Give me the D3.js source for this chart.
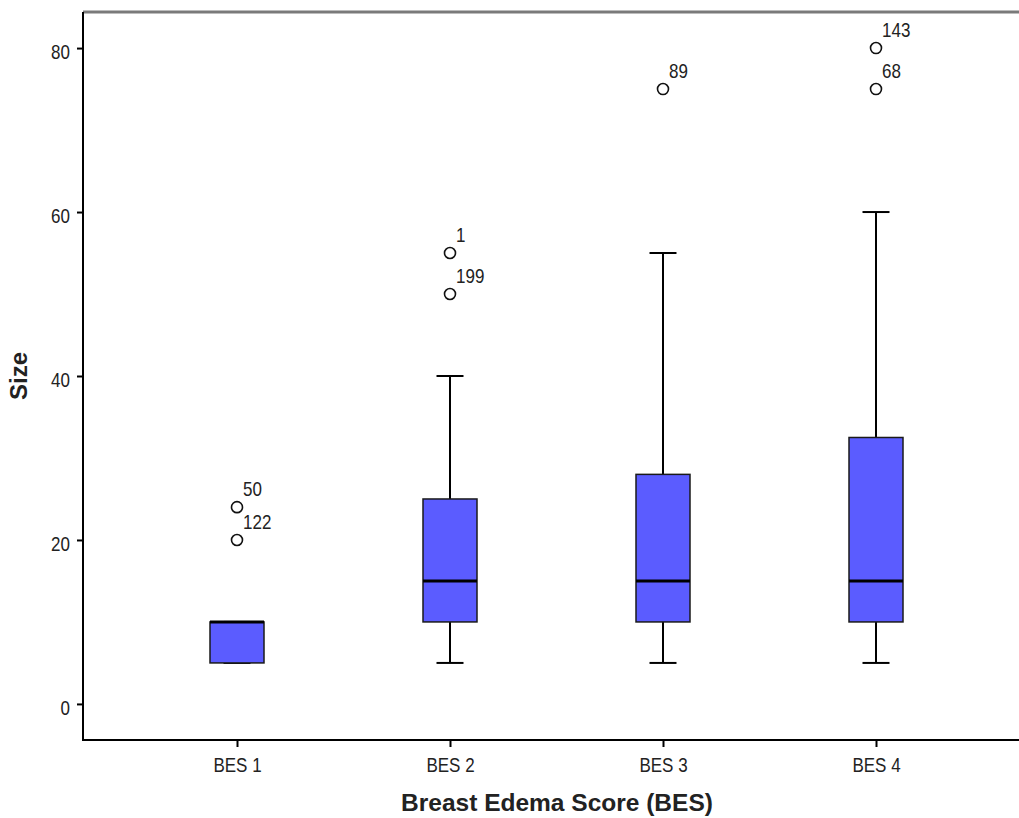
<!DOCTYPE html>
<html><head><meta charset="utf-8">
<script src="https://cdn.jsdelivr.net/npm/d3@7"></script>
<style>body{margin:0;background:#fff}</style>
</head><body>
<svg id="c" width="1019" height="818"></svg>
<script>
const categories = ["BES 1","BES 2","BES 3","BES 4"];
const mins    = [5, 5, 5, 5];
const q1s     = [5, 10, 10, 10];
const medians = [10, 15, 15, 15];
const q3s     = [10, 25, 28, 32.5];
const maxs    = [10, 40, 55, 60];
const outlierValues = [[24, 20], [55, 50], [75], [80, 75]];
const outlierLabels = [["50", "122"], ["1", "199"], ["89"], ["143", "68"]];
const yTicks = [0, 20, 40, 60, 80];

const FONT = "Liberation Sans, Arial, sans-serif";
const SY = 1.2; // vertical stretch of small labels
const svg = d3.select("#c");
const L = 83, T = 12, B = 740, R = 1019;
const y = d3.scaleLinear().domain([-4.4, 84.4]).range([B, T]);
const x = d3.scalePoint().domain(categories).range([237, 876]);

svg.append("rect").attr("x", 0).attr("y", 0).attr("width", 1019).attr("height", 818).attr("fill", "#fff");

// top frame
svg.append("line").attr("x1", L).attr("x2", R).attr("y1", T).attr("y2", T).attr("stroke", "#7a7a7a").attr("stroke-width", 3);

// axes
const yAxis = d3.axisLeft(y).tickValues(yTicks).tickSize(6).tickPadding(7);
const gy = svg.append("g").attr("transform", `translate(${L},0)`).call(yAxis);
gy.select(".domain").remove();
gy.selectAll(".tick line").attr("stroke", "#000").attr("stroke-width", 2);
gy.selectAll(".tick text").attr("font-family", FONT).attr("font-size", 17).attr("fill", "#222")
  .attr("dy", 0).attr("y", 10.5 / SY).attr("transform", `scale(1,${SY})`);
svg.append("line").attr("x1", L).attr("x2", L).attr("y1", T).attr("y2", B + 1).attr("stroke", "#000").attr("stroke-width", 2);

const xAxis = d3.axisBottom(x).tickSize(7).tickPadding(5);
const gx = svg.append("g").attr("transform", `translate(0,${B})`).call(xAxis);
gx.select(".domain").remove();
gx.selectAll(".tick line").attr("stroke", "#000").attr("stroke-width", 2);
gx.selectAll(".tick text").attr("font-family", FONT).attr("font-size", 17).attr("fill", "#222")
  .attr("dy", 0).attr("y", 32 / SY).attr("transform", `scale(1,${SY})`);
svg.append("line").attr("x1", L - 1).attr("x2", R).attr("y1", B).attr("y2", B).attr("stroke", "#000").attr("stroke-width", 2);

// titles
svg.append("text").attr("x", 557).attr("y", 811).attr("text-anchor", "middle")
  .attr("font-family", FONT).attr("font-weight", "bold").attr("font-size", 24.5).attr("fill", "#222")
  .text("Breast Edema Score (BES)");
svg.append("text").attr("transform", "translate(27,376) rotate(-90)").attr("text-anchor", "middle")
  .attr("font-family", FONT).attr("font-weight", "bold").attr("font-size", 24).attr("fill", "#222")
  .text("Size");

const bw = 54, cw = 27;
const data = categories.map((c, i) => ({c, min: mins[i], q1: q1s[i], med: medians[i], q3: q3s[i], max: maxs[i], out: outlierValues[i], lab: outlierLabels[i]}));
const g = svg.selectAll("g.box").data(data).enter().append("g").attr("class", "box");

// whiskers
g.append("line").attr("x1", d => x(d.c)).attr("x2", d => x(d.c)).attr("y1", d => y(d.q3)).attr("y2", d => y(d.max)).attr("stroke", "#000").attr("stroke-width", 2);
g.append("line").attr("x1", d => x(d.c)).attr("x2", d => x(d.c)).attr("y1", d => y(d.q1)).attr("y2", d => y(d.min)).attr("stroke", "#000").attr("stroke-width", 2);
g.append("line").attr("x1", d => x(d.c) - cw / 2).attr("x2", d => x(d.c) + cw / 2).attr("y1", d => y(d.max)).attr("y2", d => y(d.max)).attr("stroke", "#000").attr("stroke-width", 2);
g.append("line").attr("x1", d => x(d.c) - cw / 2).attr("x2", d => x(d.c) + cw / 2).attr("y1", d => y(d.min)).attr("y2", d => y(d.min)).attr("stroke", "#000").attr("stroke-width", 2);
// box
g.append("rect").attr("x", d => x(d.c) - bw / 2).attr("width", bw).attr("y", d => y(d.q3)).attr("height", d => y(d.q1) - y(d.q3))
  .attr("fill", "#5b5cff").attr("stroke", "#1a1a1a").attr("stroke-width", 1.5);
// median
g.append("line").attr("x1", d => x(d.c) - bw / 2).attr("x2", d => x(d.c) + bw / 2).attr("y1", d => y(d.med)).attr("y2", d => y(d.med)).attr("stroke", "#000").attr("stroke-width", 3);

// outliers
data.forEach(d => {
  d.out.forEach((v, j) => {
    svg.append("circle").attr("cx", x(d.c)).attr("cy", y(v)).attr("r", 5.5).attr("fill", "#fff").attr("stroke", "#111").attr("stroke-width", 1.6);
    svg.append("text").attr("transform", `translate(${x(d.c) + 6},${y(v) - 11}) scale(1,${SY})`)
      .attr("font-family", FONT).attr("font-size", 17).attr("fill", "#222").text(d.lab[j]);
  });
});
</script>
</body></html>
